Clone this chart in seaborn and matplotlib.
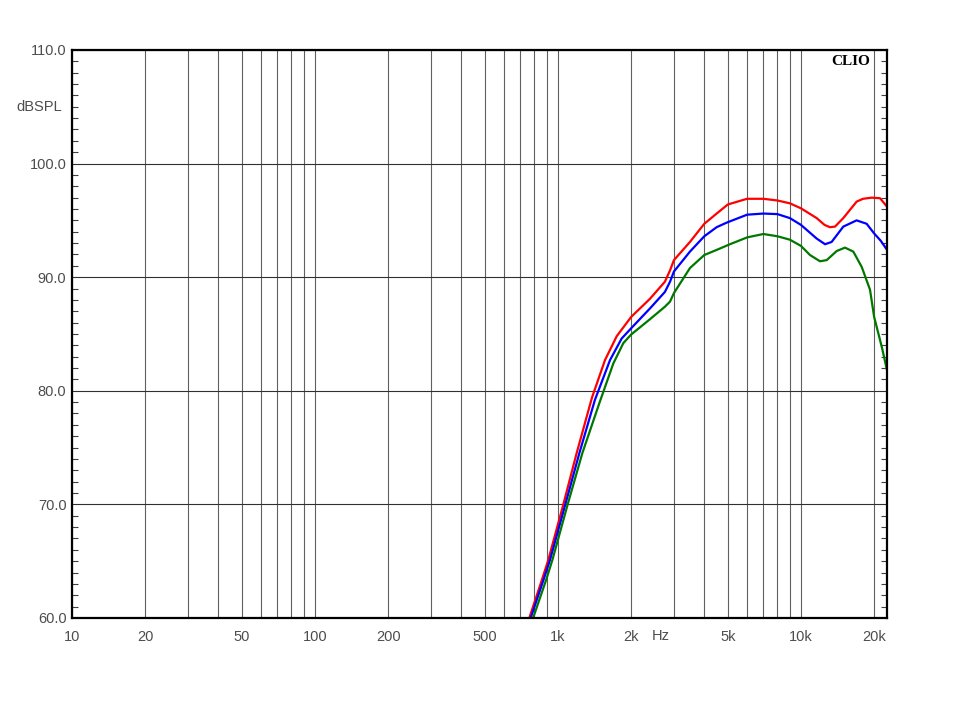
#! /usr/bin/env python3

import numpy as np
import pandas as pd
import seaborn as sns
import matplotlib.pyplot as plt
from matplotlib.ticker import FixedLocator, NullFormatter

# curves (Hz, dBSPL)
red_hz = [762, 857, 912, 1052, 1193, 1380, 1561, 1744, 2000, 2391, 2754,
          2891, 3000, 3491, 4000, 4497, 5000, 6000, 7000, 8000, 9000, 10000,
          11600, 12500, 13150, 13800, 14930, 16940, 18000, 19540, 21150, 22600]
red_db = [60.0, 63.3, 65.1, 70.0, 74.5, 79.4, 82.7, 84.8, 86.5, 88.1, 89.6,
          90.6, 91.5, 93.1, 94.7, 95.6, 96.4, 96.9, 96.9, 96.75, 96.5, 96.06,
          95.2, 94.6, 94.4, 94.45, 95.2, 96.65, 96.9, 97.0, 96.95, 96.2]

blue_hz = [772, 870, 927, 1072, 1224, 1419, 1637, 1828, 2000, 2391, 2754,
           2891, 3000, 3491, 4000, 4497, 4943, 6000, 7000, 8000, 9000, 10000,
           11600, 12560, 13370, 14930, 16940, 18630, 20000, 21300, 22600]
blue_db = [60.0, 63.3, 65.1, 70.0, 74.5, 79.2, 82.7, 84.6, 85.5, 87.25, 88.7,
           89.6, 90.5, 92.25, 93.6, 94.4, 94.8, 95.5, 95.6, 95.55, 95.2, 94.6,
           93.4, 92.9, 93.1, 94.45, 95.0, 94.7, 93.85, 93.2, 92.4]

green_hz = [790, 892, 948, 1096, 1259, 1479, 1689, 1858, 2000, 2391, 2754,
            2891, 3000, 3491, 4000, 4497, 5102, 6000, 7000, 8000, 9000, 10000,
            10890, 11970, 12760, 14020, 15170, 16420, 17780, 19230, 20000,
            21480, 22600]
green_db = [60.0, 63.3, 65.1, 70.0, 74.5, 78.9, 82.4, 84.2, 84.95, 86.3, 87.4,
            87.85, 88.6, 90.8, 91.95, 92.4, 92.9, 93.5, 93.8, 93.6, 93.3, 92.75,
            91.95, 91.4, 91.5, 92.3, 92.6, 92.25, 90.9, 88.9, 86.5,
            83.9, 81.8]

x_ticks = [10, 20, 50, 100, 200, 500, 1000, 2000, 5000, 10000, 20000]
x_labels = ['10', '20', '50', '100', '200', '500', '1k', '2k', '5k', '10k', '20k']
y_ticks = [60, 70, 80, 90, 100, 110]

TEXT = '#4d4d4d'
GRID = '#606060'


def build_frame():
    parts = []
    for name, hz, db in [('red', red_hz, red_db),
                         ('blue', blue_hz, blue_db),
                         ('green', green_hz, green_db)]:
        parts.append(pd.DataFrame({'Hz': hz, 'dB': db, 'trace': name}))
    return pd.concat(parts, ignore_index=True)


def plot(output):
    sns.set_style('white')
    plt.rcParams['font.family'] = ['Liberation Sans', 'DejaVu Sans']

    df = build_frame()
    fig = plt.figure(figsize=(9.6, 7.2), dpi=100)
    ax = fig.add_axes([0.075, 0.1417, 0.849, 0.7889])

    sns.lineplot(data=df, x='Hz', y='dB', hue='trace', estimator=None,
                 sort=True, palette={'red': '#ff0000', 'blue': '#0000ff',
                                     'green': '#007800'},
                 linewidth=1.6, legend=False, ax=ax)
    for line in ax.get_lines():
        line.set_solid_joinstyle('round')

    ax.set_xscale('log')
    ax.set_xlim(10, 22600)
    ax.set_ylim(60, 110)

    # vertical grid on every 1..9 multiple of each decade
    grid_x = [m * 10 ** d for d in range(1, 5) for m in range(1, 10)
              if m * 10 ** d <= 22600]
    ax.xaxis.set_major_locator(FixedLocator(x_ticks))
    ax.set_xticklabels(x_labels)
    ax.xaxis.set_minor_locator(FixedLocator(grid_x))
    ax.xaxis.set_minor_formatter(NullFormatter())
    ax.grid(True, which='both', axis='x', color=GRID, linewidth=0.8)
    ax.tick_params(axis='x', which='both', length=0, pad=9,
                   labelsize=10.5, labelcolor=TEXT)

    ax.set_yticks(y_ticks)
    ax.set_yticklabels(['%.1f' % v for v in y_ticks])
    ax.yaxis.set_minor_locator(FixedLocator(np.arange(60, 111, 1)))
    ax.grid(True, which='major', axis='y', color='#303030', linewidth=0.8)
    ax.tick_params(axis='y', which='major', length=0, pad=4,
                   labelsize=10.5, labelcolor=TEXT)
    ax.tick_params(axis='y', which='minor', direction='in', length=4,
                   width=0.8, color='#404040', left=True, right=True)

    for side in ['left', 'right', 'top', 'bottom']:
        ax.spines[side].set_visible(True)
        ax.spines[side].set_color('black')
        ax.spines[side].set_linewidth(1.6)

    ax.set(xlabel='', ylabel='')
    ax.text(-0.012, 105, 'dBSPL', transform=ax.get_yaxis_transform(),
            ha='right', va='center', fontsize=10.5, color=TEXT)
    ax.text(2430, -0.031, 'Hz', transform=ax.get_xaxis_transform(),
            ha='left', va='center', fontsize=10.5, color=TEXT)
    ax.text(0.979, 0.979, 'CLIO', transform=ax.transAxes, ha='right',
            va='center', fontsize=11, fontweight='bold',
            family=['Liberation Serif', 'DejaVu Serif'], color='black')

    plt.savefig(output, dpi=100)


def main():
    plot('out.png')


if __name__ == '__main__':
    main()
